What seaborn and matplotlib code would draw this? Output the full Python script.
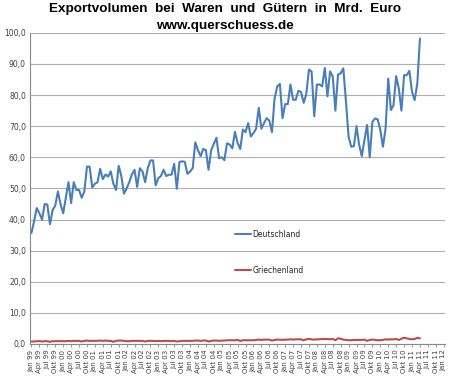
import matplotlib
matplotlib.use("Agg")
import matplotlib.pyplot as plt
import numpy as np
import pandas as pd
import seaborn as sns

# monthly export volume, Jan 99 .. Apr 11 (Mrd. Euro)
deutschland = [
    35.7, 39.5, 43.7, 42.0, 40.0, 45.0, 44.8, 38.5, 43.0, 44.5, 49.0, 45.0,
    42.0, 47.0, 52.0, 45.3, 52.0, 49.5, 49.5, 47.0, 49.0, 57.0, 57.0, 50.3,
    51.5, 52.0, 56.3, 53.0, 54.5, 53.8, 55.5, 51.5, 49.5, 57.3, 54.0, 48.3,
    50.0, 52.0, 54.5, 56.0, 50.5, 56.5, 55.5, 52.0, 56.5, 59.0, 59.0, 51.0,
    53.3, 54.0, 56.0, 54.0, 54.4, 54.4, 57.9, 49.9, 58.5, 58.7, 58.6, 54.7,
    55.4, 56.5, 64.8, 62.3, 60.4, 62.7, 62.3, 56.0, 62.3, 64.3, 66.3, 59.7,
    60.0, 59.1, 64.5, 64.1, 62.9, 68.2, 64.6, 62.7, 68.9, 68.1, 71.0, 66.7,
    67.8, 69.2, 75.9, 69.2, 71.0, 72.6, 71.8, 68.1, 79.0, 82.8, 83.6, 72.6,
    77.1, 77.1, 83.4, 78.5, 78.5, 81.4, 81.0, 77.5, 80.4, 88.2, 87.6, 73.2,
    83.4, 83.4, 82.8, 88.7, 79.6, 87.6, 86.0, 75.0, 86.6, 87.0, 88.6, 78.0,
    66.6, 63.4, 63.6, 70.0, 64.0, 60.4, 65.6, 70.4, 60.0, 71.4, 72.5, 72.2,
    68.8, 63.4, 69.3, 85.3, 75.2, 76.8, 86.1, 82.1, 75.0, 86.4, 86.4, 87.8,
    81.1, 78.4, 83.7, 98.2,
]
griechenland = [
    0.8, 0.8, 0.9, 0.9, 0.8, 0.9, 0.9, 0.7, 0.9, 0.9, 0.9, 0.9,
    0.9, 0.9, 1.0, 0.9, 1.0, 1.0, 1.0, 0.8, 1.0, 1.1, 1.0, 1.0,
    1.0, 1.0, 1.1, 1.0, 1.1, 1.0, 1.0, 0.7, 1.0, 1.1, 1.1, 1.0,
    0.9, 0.9, 1.0, 1.0, 1.0, 1.0, 1.0, 0.8, 1.0, 1.0, 1.0, 0.9,
    1.0, 0.9, 1.0, 1.0, 1.0, 0.9, 1.0, 0.8, 0.9, 1.0, 1.0, 1.0,
    1.0, 1.0, 1.1, 1.1, 1.0, 1.1, 1.1, 0.8, 1.0, 1.1, 1.1, 1.0,
    1.1, 1.1, 1.2, 1.2, 1.2, 1.2, 1.3, 1.0, 1.2, 1.2, 1.2, 1.2,
    1.2, 1.3, 1.4, 1.3, 1.4, 1.4, 1.4, 1.1, 1.3, 1.4, 1.4, 1.3,
    1.4, 1.4, 1.5, 1.4, 1.5, 1.5, 1.5, 1.2, 1.5, 1.6, 1.5, 1.4,
    1.5, 1.5, 1.6, 1.6, 1.6, 1.5, 1.6, 1.2, 1.8, 1.7, 1.4, 1.3,
    1.2, 1.2, 1.3, 1.3, 1.3, 1.3, 1.4, 1.0, 1.3, 1.4, 1.3, 1.2,
    1.2, 1.3, 1.5, 1.4, 1.5, 1.5, 1.6, 1.3, 1.7, 2.0, 1.8, 1.6,
    1.5, 1.6, 2.0, 1.8,
]
month_names = ["Jan", "Apr", "Jul", "Okt"]
years = list(range(1999, 2013))
tick_labels = [f"{m} {y % 100:02d}" for y in years for m in month_names][:53]

n = len(deutschland)
df = pd.DataFrame({
    "monat": list(range(n)) * 2,
    "wert": deutschland + griechenland,
    "land": ["Deutschland"] * n + ["Griechenland"] * n,
})

sns.set_theme(style="white")
plt.rcParams["font.family"] = ["DejaVu Sans"]

fig = plt.figure(figsize=(4.5, 3.78), dpi=100)
ax = fig.add_axes([0.067, 0.09, 0.922, 0.823])

sns.lineplot(data=df, x="monat", y="wert", hue="land",
             palette={"Deutschland": "#4a7ebb", "Griechenland": "#be4b48"},
             linewidth=1.5, ax=ax)

ax.set_xlim(-0.5, 156.5)
ax.set_ylim(0, 100)
ax.set_yticks(np.arange(0, 101, 10))
ax.set_yticklabels([f"{v:.1f}".replace(".", ",") for v in range(0, 101, 10)],
                   fontsize=5.5, color="#404040")
ax.set_xticks(np.arange(0, 157, 3))
ax.set_xticklabels(tick_labels, rotation=90, fontsize=5, color="#404040")
ax.tick_params(axis="x", length=2.5, width=0.6, color="#888888", pad=1.5, bottom=True)
ax.tick_params(axis="y", length=0, pad=3)
ax.set_xlabel("")
ax.set_ylabel("")
ax.yaxis.grid(True, color="#b0b0b0", linewidth=0.8)
ax.set_axisbelow(True)
for side in ("top", "right"):
    ax.spines[side].set_visible(False)
for side in ("left", "bottom"):
    ax.spines[side].set_color("#888888")
    ax.spines[side].set_linewidth(0.8)

leg = ax.legend(loc="upper left", bbox_to_anchor=(0.48, 0.385), frameon=False,
                fontsize=5.5, labelspacing=3.6, handlelength=2.2, handletextpad=0.1,
                borderpad=0.2)
for h in leg.get_lines():
    h.set_linewidth(1.5)

fig.text(0.5, 0.975, "Exportvolumen  bei  Waren  und  Gütern  in  Mrd.  Euro",
         ha="center", va="center", fontsize=9.7, fontweight="bold",
         family="Liberation Sans", color="black")
fig.text(0.5, 0.93, "www.querschuess.de", ha="center", va="center",
         fontsize=9.7, fontweight="bold", family="Liberation Sans", color="black")

fig.savefig("out.png", dpi=100)
